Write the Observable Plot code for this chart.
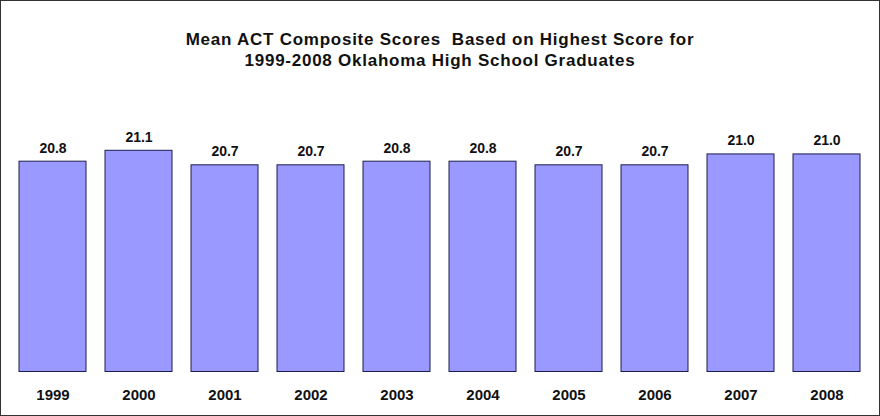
<!DOCTYPE html>
<html>
<head>
<meta charset="utf-8">
<script src="https://cdn.jsdelivr.net/npm/d3@7"></script>
<script src="https://cdn.jsdelivr.net/npm/@observablehq/plot@0.6"></script>
<style>
  html, body { margin: 0; padding: 0; background: #fff; }
  #frame {
    position: relative; width: 880px; height: 416px; box-sizing: border-box;
    border: 1px solid #333; background: #fff; overflow: hidden;
  }
  #title {
    position: absolute; left: 0; right: 0; top: 27.5px; text-align: center;
    font-family: "Liberation Sans", Arial, sans-serif; font-weight: bold;
    font-size: 17px; line-height: 21px; letter-spacing: 0.75px; color: #111;
    white-space: pre;
  }
  #chart svg { display: block; }
</style>
</head>
<body>
<div id="frame">
  <div id="chart"></div>
  <div id="title"></div>
</div>
<script>
const titleLines = [
  "Mean ACT Composite Scores  Based on Highest Score for",
  "1999-2008 Oklahoma High School Graduates"
];
const years = ["1999", "2000", "2001", "2002", "2003", "2004", "2005", "2006", "2007", "2008"];
const scores = [20.8, 21.1, 20.7, 20.7, 20.8, 20.8, 20.7, 20.7, 21.0, 21.0];
const axisMin = 15;
const axisMax = 21.1;

const data = years.map((year, i) => ({year, score: scores[i]}));

document.getElementById("title").textContent = titleLines.join("\n");

const chart = Plot.plot({
  width: 878,
  height: 414,
  marginLeft: 8.5,
  marginRight: 9.5,
  marginTop: 149.3,
  marginBottom: 43.5,
  style: {fontFamily: "'Liberation Sans', Arial, sans-serif", background: "transparent", color: "#111"},
  x: {domain: years, paddingInner: 0.22, paddingOuter: 0.11, align: 0.5},
  y: {domain: [axisMin, axisMax], axis: null},
  marks: [
    Plot.barY(data, {x: "year", y1: axisMin, y2: "score", fill: "#9999ff", stroke: "#1c1c4c", strokeWidth: 1}),
    Plot.text(data, {x: "year", y: "score", text: d => d.score.toFixed(1), lineAnchor: "bottom", dy: -9,
      fontSize: 14, fontWeight: "bold", fill: "#111"}),
    Plot.axisX({tickSize: 0, tickPadding: 17, fontSize: 15, fontWeight: "bold", fill: "#111", label: null})
  ]
});
document.getElementById("chart").appendChild(chart);
</script>
</body>
</html>
